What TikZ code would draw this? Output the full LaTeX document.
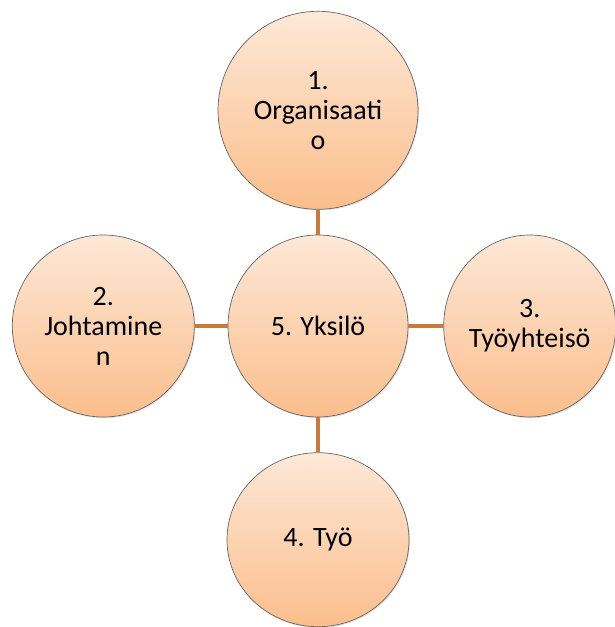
\documentclass[tikz,border=0pt]{standalone}
\usepackage{fontspec}
\setmainfont{Carlito}
\usepackage{tikz}
\usetikzlibrary{positioning, shapes.geometric, shadows}
\definecolor{peachtop}{RGB}{253,232,215}
\definecolor{peachbot}{RGB}{251,190,140}
\definecolor{linkbrown}{RGB}{201,122,58}

\begin{document}
\begin{tikzpicture}[
  x=1pt, y=1pt,
  ball/.style={ellipse, draw=black!60, line width=0.7pt,
               top color=peachtop, bottom color=peachbot,
               drop shadow={shadow xshift=1pt, shadow yshift=-1.2pt, opacity=0.25},
               inner sep=0pt, align=center,
               font=\fontsize{28}{30}\selectfont},
  link/.style={draw=linkbrown, line width=3.8pt}
]
\useasboundingbox (0,0) rectangle (614,627);

\node[ball, minimum width=180pt, minimum height=182pt] (yksilo) at (318,301) {5. Yksilö};
\node[ball, minimum width=200pt, minimum height=198pt, above=25pt of yksilo] (organisaatio) {1.\\Organisaati\\o};
\node[ball, minimum width=182pt, minimum height=182pt, left=33pt of yksilo] (johtaminen) {2.\\Johtamine\\n};
\node[ball, minimum width=172pt, minimum height=182pt, right=35pt of yksilo] (tyoyhteiso) {3.\\Työyhteisö};
\node[ball, minimum width=182pt, minimum height=174pt, below=35pt of yksilo] (tyo) {4. Työ};

\draw[link] (yksilo) -- (organisaatio);
\draw[link] (yksilo) -- (johtaminen);
\draw[link] (yksilo) -- (tyoyhteiso);
\draw[link] (yksilo) -- (tyo);

\end{tikzpicture}
\end{document}
